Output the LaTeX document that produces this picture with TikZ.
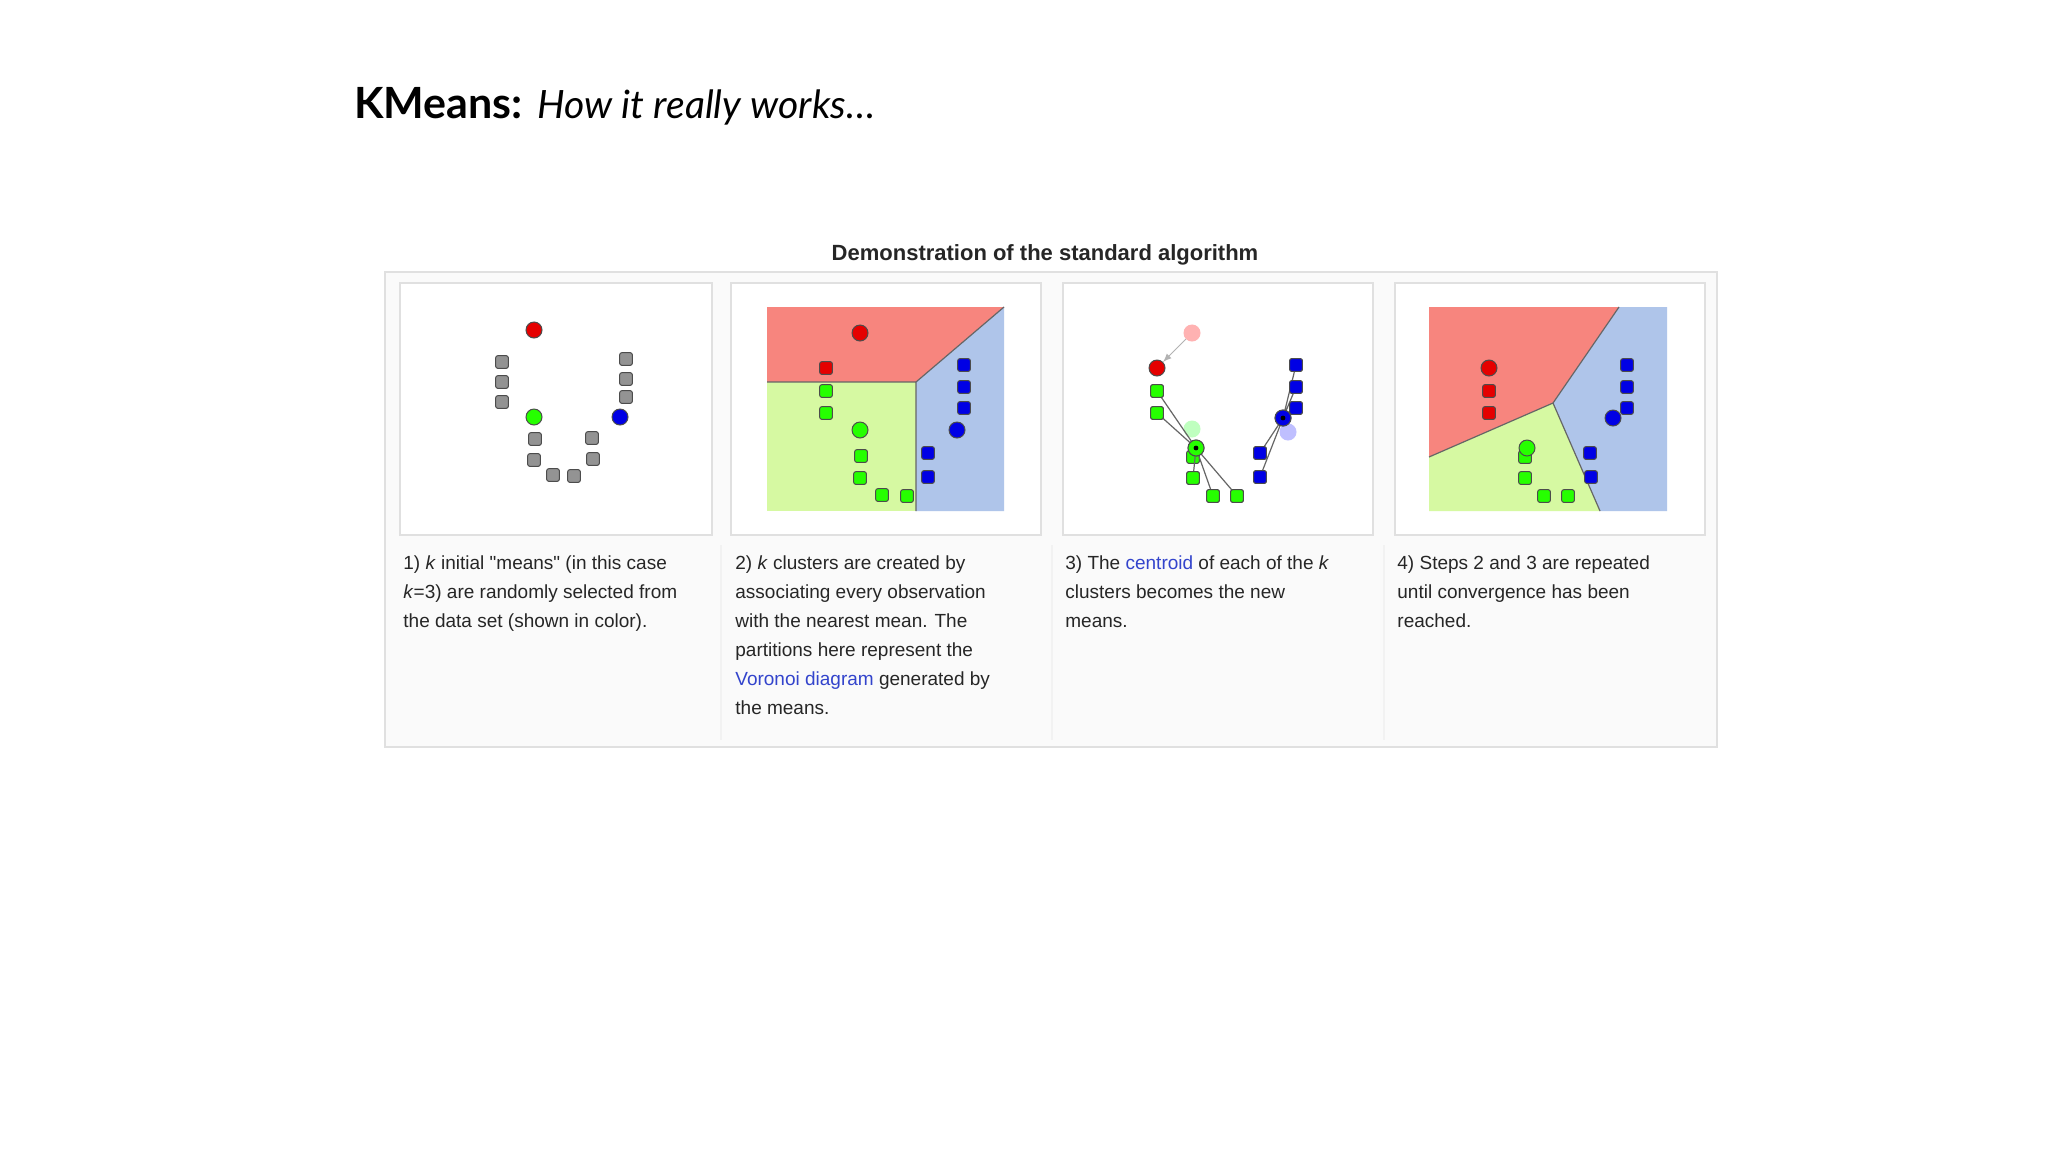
\documentclass[tikz,border=0pt]{standalone}
\usepackage{fontspec}
\setmainfont{Liberation Sans}
\newfontfamily\headfont{Lato}
\begin{document}
\begin{tikzpicture}[x=0.5pt,y=-0.5pt,
  sqb/.style={draw=black!70,line width=0.5pt,rounded corners=1pt,minimum size=6.3pt,inner sep=0pt},
  gsq/.style={sqb,fill=gray!85},
  rsq/.style={sqb,fill=red!90!black},
  grsq/.style={sqb,fill=green!80!lime},
  bsq/.style={sqb,fill=blue!90!black},
  cb/.style={circle,draw=black!70,line width=0.5pt,minimum size=8pt,inner sep=0pt},
  rc/.style={cb,fill=red!90!black},
  gc/.style={cb,fill=green!80!lime},
  bc/.style={cb,fill=blue!90!black},
  panel/.style={draw=black!12,line width=1pt,fill=white},
  captxt/.style={anchor=north west,align=left,inner sep=0pt,text=black!85,font=\fontsize{9.5}{14.5}\selectfont},
  link/.style={draw=black!60,line width=0.6pt},
  regline/.style={draw=black!60,line width=0.6pt}
]
\definecolor{rreg}{HTML}{F7857E}
\definecolor{greg}{HTML}{D6F9A2}
\definecolor{breg}{HTML}{AFC5EA}
\definecolor{wlink}{HTML}{3344CC}
\useasboundingbox (0,0) rectangle (2048,1152);
\fill[white] (0,0) rectangle (2048,1152);
% heading
\node[anchor=base west,inner sep=0pt,font=\headfont\fontsize{21.5}{24}\selectfont] (head) at (354,118) {\textbf{KMeans:} {\fontsize{19.5}{24}\selectfont\textit{How it really works\ldots}}};
\node[anchor=base,inner sep=0pt,text=black!85,font=\bfseries\fontsize{11}{13}\selectfont] (title) at (1045,260) {Demonstration of the standard algorithm};
% outer box
\draw[draw=black!12,line width=1.2pt,fill=black!2] (385,272) rectangle (1717,747);
% panels
\draw[panel] (400,283) rectangle (712,535);
\draw[panel] (731,283) rectangle (1041,535);
\draw[panel] (1063,283) rectangle (1373,535);
\draw[panel] (1395,283) rectangle (1705,535);
% caption separators
\draw[black!5,line width=1pt] (721,545) -- (721,740);
\draw[black!5,line width=1pt] (1052,545) -- (1052,740);
\draw[black!5,line width=1pt] (1384,545) -- (1384,740);

% ---- panel 1
\node[rc] (a0) at (534,330) {};
\node[gsq] (a1) at (502,362) {}; \node[gsq] (a2) at (502,382) {}; \node[gsq] (a3) at (502,402) {};
\node[gsq] (a4) at (626,359) {}; \node[gsq] (a5) at (626,379) {}; \node[gsq] (a6) at (626,397) {};
\node[gc] (a7) at (534,417) {}; \node[bc] (a8) at (620,417) {};
\node[gsq] (a9) at (535,439) {}; \node[gsq] (a10) at (534,460) {};
\node[gsq] (a11) at (553,475) {}; \node[gsq] (a12) at (574,476) {};
\node[gsq] (a13) at (592,438) {}; \node[gsq] (a14) at (593,459) {};

% ---- panel 2
\fill[rreg] (767,307) -- (1004,307) -- (916,382) -- (767,382) -- cycle;
\fill[greg] (767,382) -- (916,382) -- (916,511) -- (767,511) -- cycle;
\fill[breg] (916,382) -- (1004,307) -- (1004,511) -- (916,511) -- cycle;
\draw[regline] (767,382) -- (916,382) -- (1004,307) (916,382) -- (916,511);
\node[rc] (b0) at (860,333) {};
\node[rsq] (b1) at (826,368) {};
\node[grsq] (b2) at (826,391) {}; \node[grsq] (b3) at (826,413) {};
\node[gc] (b4) at (860,430) {};
\node[grsq] (b5) at (861,456) {}; \node[grsq] (b6) at (860,478) {};
\node[grsq] (b7) at (882,495) {}; \node[grsq] (b8) at (907,496) {};
\node[bsq] (b9) at (964,365) {}; \node[bsq] (b10) at (964,387) {}; \node[bsq] (b11) at (964,408) {};
\node[bc] (b12) at (957,430) {};
\node[bsq] (b13) at (928,453) {}; \node[bsq] (b14) at (928,477) {};

% ---- panel 3
\node[cb,fill=red!30,draw=red!30] (c0) at (1192,333) {};
\node[cb,fill=green!25,draw=green!25] (c1) at (1192,429) {};
\node[cb,fill=blue!25,draw=blue!25] (c2) at (1288,432) {};
\node[rc] (c3) at (1157,368) {};
\draw[draw=black!30,line width=0.5pt,-latex] (c0) -- (c3);
\node[grsq] (c4) at (1157,391) {}; \node[grsq] (c5) at (1157,413) {};
\node[grsq] (c6) at (1193,457) {};
\node[grsq] (c7) at (1193,478) {}; \node[grsq] (c8) at (1213,496) {}; \node[grsq] (c9) at (1237,496) {};
\node[gc] (c10) at (1196,448) {};
\node[bsq] (c11) at (1296,365) {}; \node[bsq] (c12) at (1296,387) {}; \node[bsq] (c13) at (1296,408) {};
\node[bsq] (c14) at (1260,453) {}; \node[bsq] (c15) at (1260,477) {};
\node[bc] (c16) at (1283,418) {};
\draw[link] (c4.center) -- (c10.center) (c5.center) -- (c10.center) (c7.center) -- (c10.center) (c8.center) -- (c10.center) (c9.center) -- (c10.center);
\draw[link] (c11.center) -- (c16.center) (c12.center) -- (c16.center) (c13.center) -- (c16.center) (c14.center) -- (c16.center) (c15.center) -- (c16.center);
\node[grsq] at (c4) {}; \node[grsq] at (c5) {}; \node[grsq] at (c7) {}; \node[grsq] at (c8) {}; \node[grsq] at (c9) {};
\node[bsq] at (c11) {}; \node[bsq] at (c12) {}; \node[bsq] at (c13) {}; \node[bsq] at (c14) {}; \node[bsq] at (c15) {};
\node[gc] at (c10) {}; \node[bc] at (c16) {};
\fill[black] (c10) circle (1.2pt) (c16) circle (1.2pt);

% ---- panel 4
\fill[rreg] (1429,307) -- (1619,307) -- (1553,403) -- (1429,457) -- cycle;
\fill[greg] (1429,457) -- (1553,403) -- (1600,511) -- (1429,511) -- cycle;
\fill[breg] (1619,307) -- (1667,307) -- (1667,511) -- (1600,511) -- (1553,403) -- cycle;
\draw[regline] (1619,307) -- (1553,403) -- (1429,457) (1553,403) -- (1600,511);
\node[rsq] (d1) at (1489,391) {}; \node[rsq] (d2) at (1489,413) {};
\node[rc] (d0) at (1489,368) {};
\node[bsq] (d3) at (1627,365) {}; \node[bsq] (d4) at (1627,387) {}; \node[bsq] (d5) at (1627,408) {};
\node[bc] (d6) at (1613,418) {};
\node[grsq] (d7) at (1525,457) {};
\node[gc] (d8) at (1527,448) {};
\node[grsq] (d9) at (1525,478) {}; \node[grsq] (d10) at (1544,496) {}; \node[grsq] (d11) at (1568,496) {};
\node[bsq] (d12) at (1590,453) {}; \node[bsq] (d13) at (1591,477) {};

% captions
\node[captxt] (t1) at (403,555) {1) \textit{k} initial \textquotedbl means\textquotedbl{} (in this case\\\textit{k}=3) are randomly selected from\\the data set (shown in color).};
\node[captxt] (t2) at (735,555) {2) \textit{k} clusters are created by\\associating every observation\\with the nearest mean. The\\partitions here represent the\\\textcolor{wlink}{Voronoi diagram} generated by\\the means.};
\node[captxt] (t3) at (1065,555) {3) The \textcolor{wlink}{centroid} of each of the \textit{k}\\clusters becomes the new\\means.};
\node[captxt] (t4) at (1397,555) {4) Steps 2 and 3 are repeated\\until convergence has been\\reached.};
\end{tikzpicture}
\end{document}
